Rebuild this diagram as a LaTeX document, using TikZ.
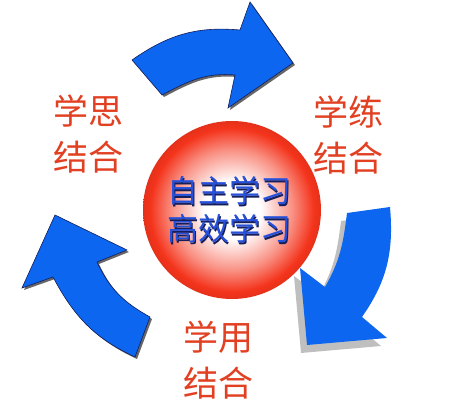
\documentclass[tikz,border=0pt]{standalone}
\usepackage{fontspec}
\newfontfamily\cjk{Noto Sans CJK SC}
\usetikzlibrary{calc}
\definecolor{arrowblue}{RGB}{12,102,240}
\definecolor{arrowline}{RGB}{20,30,90}
\definecolor{labelred}{RGB}{226,64,34}
\definecolor{sphred}{RGB}{244,52,28}
\definecolor{coreblue}{RGB}{38,80,218}
\definecolor{coreshadow}{RGB}{22,30,90}
\pgfdeclareradialshading{sphereshade}{\pgfpoint{0bp}{0bp}}{color(0bp)=(white); color(8bp)=(white); color(17bp)=(sphred!55); color(23bp)=(sphred); color(25bp)=(sphred!94!black); color(50bp)=(sphred!94!black)}
\newcommand\toparrowpath{(132,360) to[out=35,in=175] (240,390) -- (250,418) -- (293,357) -- (228,312) -- (235,345) to[out=175,in=28] (162,325) -- cycle}
\newcommand\rightarrowpath{(390,213) to[out=-85,in=55] (362,103) -- (387,82) -- (307,75) -- (300,152) -- (325,133) to[out=60,in=-97] (347,207) -- cycle}
\newcommand\leftarrowpath{(135,63) to[out=155,in=-62] (53,143) -- (22,132) -- (55,205) -- (127,170) -- (97,158) to[out=-65,in=151] (150,103) -- cycle}
\begin{document}
\begin{tikzpicture}[x=1pt,y=1pt,
	blockarrow/.style={fill=arrowblue, draw=arrowline, line width=0.6pt, line join=miter},
	softshadow/.style={fill=black!60},
	wideshadow/.style={fill=black!25},
	pairlabel/.style={text=labelred, align=center, inner sep=0pt, font=\cjk\fontsize{35}{46}\selectfont},
	coretext/.style={align=center, inner sep=0pt, font=\cjk\fontsize{31}{38}\selectfont}]
	\useasboundingbox (0,0) rectangle (450,420);
	% arrows
	\fill[softshadow, shift={(2,-2)}] \toparrowpath;
	\filldraw[blockarrow] \toparrowpath;
	\fill[softshadow, shift={(2,-2)}] \leftarrowpath;
	\filldraw[blockarrow] \leftarrowpath;
	\fill[wideshadow, shift={(-6,-8)}] \rightarrowpath;
	\fill[arrowblue] \rightarrowpath;
	% sphere
	\node (core) [circle, minimum size=178pt, inner sep=0pt, shading=sphereshade] at (232,210) {};
	\node (coreback) [coretext, text=coreshadow] at ($(core)+(-1.5,-1.5)$) {自主学习\\高效学习};
	\node (corefront) [coretext, text=coreblue] at ($(core)+(-3,0)$) {自主学习\\高效学习};
	% labels
	\node (sijie) [pairlabel] at (88,286) {学思\\结合};
	\node (lianjie) [pairlabel] at (348,285) {学练\\结合};
	\node (yongjie) [pairlabel] at (218,60) {学用\\结合};
\end{tikzpicture}
\end{document}
